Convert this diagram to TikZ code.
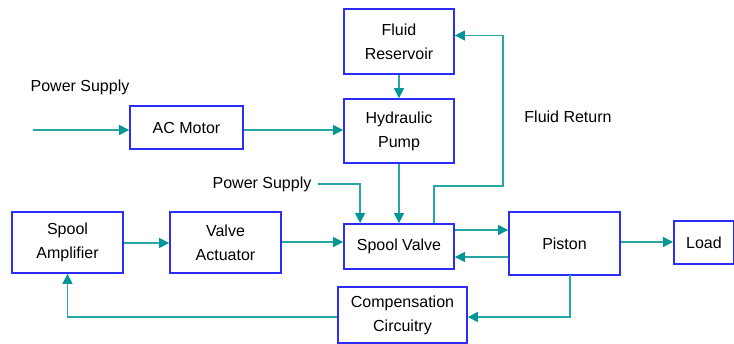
\documentclass[tikz,border=0pt]{standalone}
\usepackage{fontspec}
\setmainfont{Liberation Sans}
\usetikzlibrary{arrows.meta,calc}
\definecolor{boxblue}{RGB}{45,45,250}
\definecolor{linkteal}{RGB}{40,165,165}
\definecolor{tipteal}{RGB}{0,150,150}
\tikzset{
  blk/.style={draw=boxblue, line width=1.8pt, rectangle, align=center, inner sep=0pt,
    font=\fontsize{16}{24}\selectfont},
  lbl/.style={inner sep=0pt, font=\fontsize{16}{18}\selectfont},
  link/.style={draw=linkteal, line width=1.3pt},
  arr/.style={link, -{Triangle[length=10pt,width=10pt,color=tipteal]}}
}
\begin{document}
\begin{tikzpicture}[x=1pt,y=-1pt]
\useasboundingbox[fill=white] (0,0) rectangle (734,344);
% boxes
\node[blk, minimum width=110pt, minimum height=65pt] (res) at (399,41.5) {Fluid\\Reservoir};
\node[blk, minimum width=110pt, minimum height=64pt] (pump) at (399,131) {Hydraulic\\Pump};
\node[blk, minimum width=113pt, minimum height=43pt] (acm) at (186.5,127.5) {AC Motor};
\node[blk, minimum width=110pt, minimum height=45pt] (spool) at (399,246.5) {Spool Valve};
\node[blk, minimum width=111pt, minimum height=61pt] (act) at (225.5,242.5) {Valve\\Actuator};
\node[blk, minimum width=111pt, minimum height=61pt] (amp) at (67.5,242.5) {Spool\\Amplifier};
\node[blk, minimum width=111pt, minimum height=63pt] (pist) at (564.5,243.5) {Piston};
\node[blk, minimum width=60pt, minimum height=43pt, anchor=west] (load) at (673,242.5) {Load};
\node[blk, minimum width=129pt, minimum height=56pt] (comp) at (402.5,315) {Compensation\\Circuitry};
% labels
\node[lbl] (ps1) at (80,87) {Power Supply};
\node[lbl] (ps2) at (262,184) {Power Supply};
\node[lbl] (fr) at (568,117) {Fluid Return};
% coordinates
\coordinate (psin) at (33,130);
\coordinate (frc) at (503,186);
% connectors
\draw[arr] (psin) -- (psin -| acm.west);
\draw[arr] (acm.east |- psin) -- (psin -| pump.west);
\draw[arr] (res.south) -- (pump.north);
\draw[arr] (pump.south) -- (spool.north);
\draw[arr] ($(ps2.east)+(6,0)$) -| ($(spool.north west)+(17,0)$);
\draw[arr] ($(spool.north west)+(91,0)$) |- (frc) |- ($(res.east)+(0,-6)$);
\draw[arr] (act.east |- 0,242) -- (spool.west |- 0,242);
\draw[arr] (amp.east |- 0,243) -- (act.west |- 0,243);
\draw[arr] (spool.east |- 0,230) -- (pist.west |- 0,230);
\draw[arr] (pist.west |- 0,257) -- (spool.east |- 0,257);
\draw[arr] (pist.east |- 0,242) -- (load.west |- 0,242);
\draw[arr] (570,275) |- (comp.east |- 0,317);
\draw[arr] (comp.west |- 0,317) -| (amp.south);
\end{tikzpicture}
\end{document}
